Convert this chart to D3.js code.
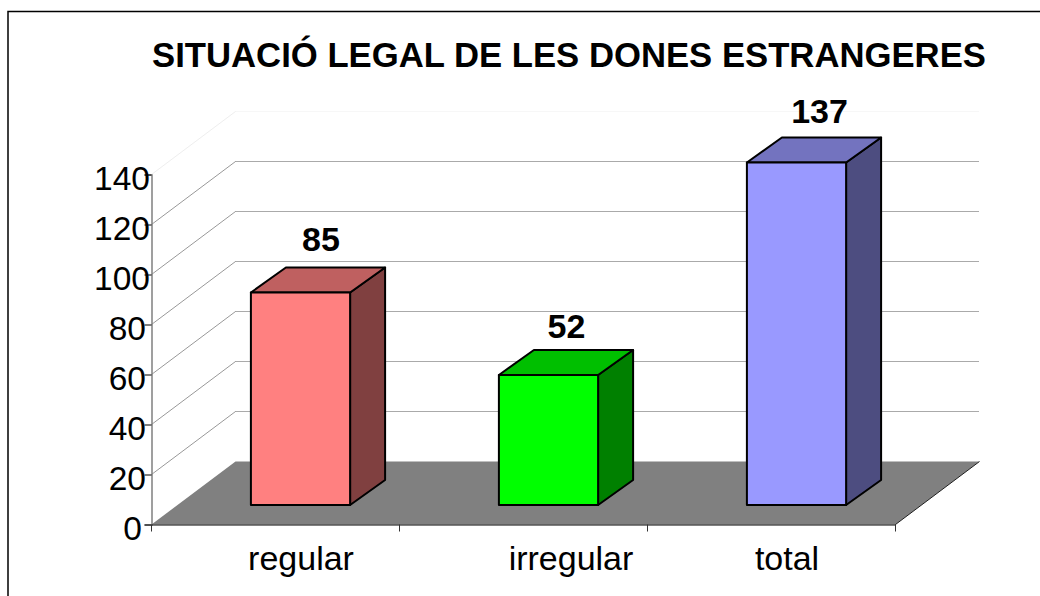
<!DOCTYPE html>
<html lang="ca">

<head>
  <meta charset="utf-8">
  <title>Situació legal de les dones estrangeres</title>
  <script src="https://d3js.org/d3.v7.min.js"></script>
  <style>
    html, body { margin: 0; padding: 0; background: #fff; }
    svg { display: block; }
    text { font-family: "Liberation Sans", Arial, sans-serif; fill: #000; }
  </style>
</head>

<body>
  <svg width="1040" height="596"></svg>
  <script>
    const titleText = "SITUACIÓ LEGAL DE LES DONES ESTRANGERES";
    const categories = ["regular", "irregular", "total"];
    const values = [85, 52, 137];
    const yTicks = [0, 20, 40, 60, 80, 100, 120, 140];
    const frontColors = ["#ff8080", "#00ff00", "#9999ff"];
    const topColors = ["#bf6060", "#00bf00", "#7373bf"];
    const sideColors = ["#804040", "#008000", "#4d4d80"];

    const svg = d3.select("svg");

    // frame runs off the picture on the right and at the bottom
    svg.append("path")
      .attr("d", "M8,596V11.5H1040")
      .attr("fill", "none")
      .attr("stroke", "#000")
      .attr("stroke-width", 1.5);

    svg.append("text")
      .attr("x", 569).attr("y", 67)
      .attr("text-anchor", "middle")
      .attr("font-size", 34.7)
      .attr("font-weight", "bold")
      .text(titleText);

    const x = d3.scaleBand().domain(categories).range([151.5, 895.5]).paddingInner(0.6).paddingOuter(0.3);
    const y = d3.scaleLinear().domain([0, 140]).range([524.5, 174.5]);

    // box depth, whole floor and bar part of it
    const depthX = 84, depthY = 63;
    const barDX = 35, barDY = 25;
    const barOffX = 25, barOffY = 19.5;

    // walls
    const grid = svg.append("g");
    grid.selectAll("line.back")
      .data(yTicks.slice(1))
      .enter()
      .append("line")
      .attr("class", "back")
      .attr("x1", 151.5 + depthX)
      .attr("x2", 895.5 + depthX - 1)
      .attr("y1", d => y(d) - depthY)
      .attr("y2", d => y(d) - depthY)
      .attr("stroke", d => d == 140 ? "#eeeeee" : "#555555")
      .attr("stroke-dasharray", "1 1");
    grid.selectAll("line.side")
      .data(yTicks.slice(1))
      .enter()
      .append("line")
      .attr("class", "side")
      .attr("x1", 151.5)
      .attr("x2", 151.5 + depthX)
      .attr("y1", d => y(d))
      .attr("y2", d => y(d) - depthY)
      .attr("stroke", d => d == 140 ? "#eeeeee" : "#999999");

    // floor
    const floorPts = [
      [x.range()[0], y(0)],
      [x.range()[1], y(0)],
      [x.range()[1] + depthX, y(0) - depthY],
      [x.range()[0] + depthX, y(0) - depthY]
    ];
    svg.append("polygon")
      .attr("points", floorPts.join(" "))
      .attr("fill", "#808080");
    svg.append("line")
      .attr("x1", floorPts[1][0]).attr("y1", floorPts[1][1])
      .attr("x2", floorPts[2][0]).attr("y2", floorPts[2][1])
      .attr("stroke", "#222");

    // axes
    const yAxis = svg.append("g")
      .attr("transform", "translate(151.5,0)")
      .call(d3.axisLeft(y).tickValues(yTicks).tickSize(7).tickPadding(0).tickFormat(d3.format("d")));
    yAxis.select(".domain").attr("stroke", "#808080").attr("stroke-width", 1.5);
    yAxis.selectAll("text")
      .attr("font-size", 33.5)
      .attr("font-family", null)
      .attr("dy", "0.45em")
      .attr("x", d => String(d).length * 4 - 13.5);

    // the labels do not sit centred in their bands in the original
    const labelShift = [25.5, 47.5, 15.5];
    const xAxis = svg.append("g")
      .attr("transform", "translate(0,524.5)")
      .call(d3.axisBottom(x).tickSize(0).tickPadding(21));
    xAxis.select(".domain").attr("stroke", "#000");
    xAxis.selectAll("text")
      .attr("font-size", 34)
      .attr("font-family", null)
      .attr("dy", "0.71em")
      .attr("dx", (d, i) => labelShift[i]);
    xAxis.selectAll("line.sep")
      .data(d3.range(categories.length + 1))
      .enter()
      .append("line")
      .attr("class", "sep")
      .attr("x1", i => x.range()[0] + x.step() * i)
      .attr("x2", i => x.range()[0] + x.step() * i)
      .attr("y1", 0).attr("y2", 7)
      .attr("stroke", "#333");

    // bars
    const bar = svg.selectAll("g.bar")
      .data(categories)
      .enter()
      .append("g")
      .attr("class", "bar")
      .attr("stroke", "#000")
      .attr("stroke-width", 2)
      .attr("stroke-linejoin", "round");

    const barLeft = d => x(d) + barOffX;
    const barRight = d => barLeft(d) + x.bandwidth();
    const barBase = y(0) - barOffY;
    const barTop = (d, i) => barBase - (y(0) - y(values[i]));

    bar.append("polygon")
      .attr("fill", (d, i) => sideColors[i])
      .attr("points", (d, i) => [
        [barRight(d), barBase],
        [barRight(d) + barDX, barBase - barDY],
        [barRight(d) + barDX, barTop(d, i) - barDY],
        [barRight(d), barTop(d, i)]
      ].join(" "));
    bar.append("polygon")
      .attr("fill", (d, i) => topColors[i])
      .attr("points", (d, i) => [
        [barLeft(d), barTop(d, i)],
        [barRight(d), barTop(d, i)],
        [barRight(d) + barDX, barTop(d, i) - barDY],
        [barLeft(d) + barDX, barTop(d, i) - barDY]
      ].join(" "));
    bar.append("rect")
      .attr("fill", (d, i) => frontColors[i])
      .attr("x", d => barLeft(d))
      .attr("y", (d, i) => barTop(d, i))
      .attr("width", x.bandwidth())
      .attr("height", (d, i) => barBase - barTop(d, i));

    // value labels, hand placed above the bars like the original
    const valueShiftX = [20.5, 18, 23];
    const valueShiftY = [42, 37, 40];
    svg.selectAll("text.value")
      .data(categories)
      .enter()
      .append("text")
      .attr("class", "value")
      .attr("text-anchor", "middle")
      .attr("font-size", 34)
      .attr("font-weight", "bold")
      .attr("x", (d, i) => barLeft(d) + x.bandwidth() / 2 + valueShiftX[i])
      .attr("y", (d, i) => barTop(d, i) - valueShiftY[i])
      .text((d, i) => values[i]);
  </script>
</body>

</html>
